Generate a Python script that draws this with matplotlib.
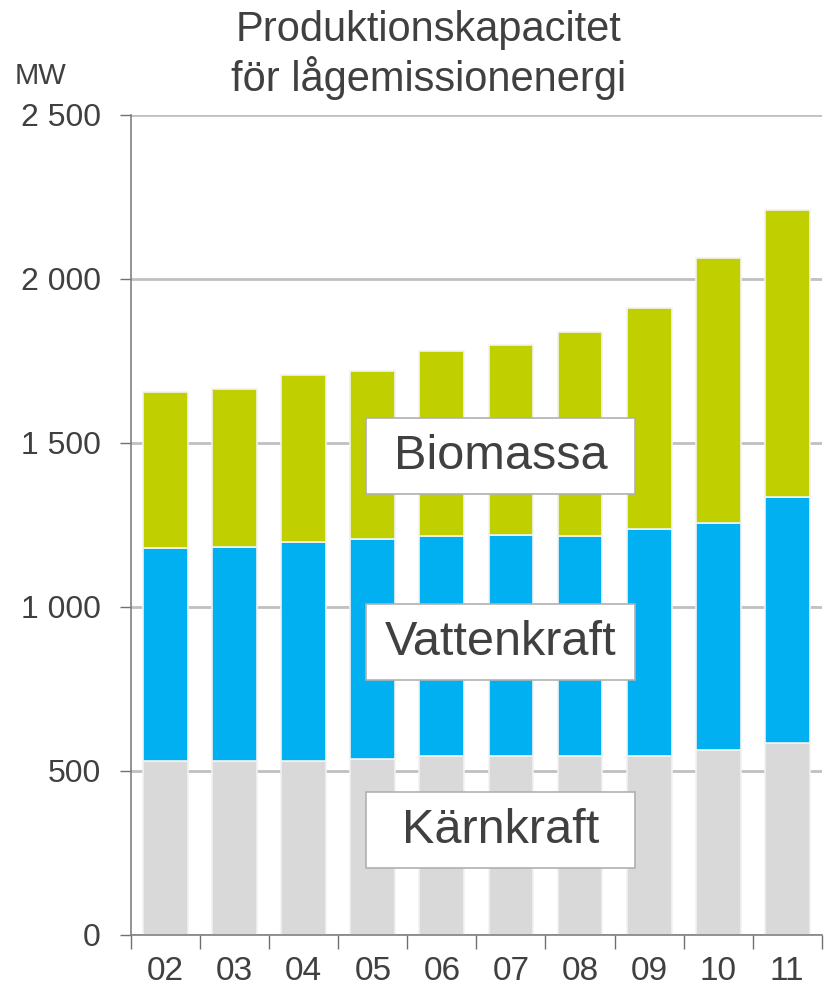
import numpy as np
import matplotlib.pyplot as plt
from matplotlib.patches import Rectangle

years = ["02", "03", "04", "05", "06", "07", "08", "09", "10", "11"]
karnkraft = [530, 530, 530, 537, 546, 546, 546, 546, 564, 585]
vattenkraft = [650, 653, 668, 670, 670, 674, 670, 692, 692, 750]
biomassa = [475, 482, 509, 513, 564, 579, 622, 674, 808, 875]

series = ["Kärnkraft", "Vattenkraft", "Biomassa"]
colors = ["#d9d9d9", "#00b0f0", "#bfcf00"]
label_y = [320, 893, 1460]

plt.rcParams['font.family'] = ['Liberation Sans', 'DejaVu Sans']
text_color = "#404040"

fig = plt.figure(figsize=(8.25, 9.85), dpi=100)
ax = fig.add_axes([0.159, 0.0508, 0.837, 0.8325])

x = np.arange(len(years))
bottom = np.zeros(len(years))
for vals, c in zip([karnkraft, vattenkraft, biomassa], colors):
    ax.bar(x, vals, 0.65, bottom=bottom, color=c, edgecolor="#f2f2f2",
           linewidth=1.2, zorder=2)
    bottom += np.array(vals)

ax.set_xlim(-0.5, len(years) - 0.5)
ax.set_ylim(0, 2500)
ax.set_yticks(np.arange(0, 2501, 500))
ax.set_yticklabels(["0", "500", "1 000", "1 500", "2 000", "2 500"])
ax.yaxis.grid(True, color="#c0c0c0", linewidth=2, zorder=0)
ax.set_axisbelow(True)

ax.set_xticks(x)
ax.set_xticklabels(years, fontsize=24, color=text_color)
ax.set_xticks(np.arange(-0.5, len(years)), minor=True)
ax.tick_params(axis="x", which="major", length=0, pad=15)
ax.tick_params(axis="x", which="minor", length=10, width=1, color="#707070")
ax.tick_params(axis="y", length=8, width=1, color="#707070", labelsize=23,
               labelcolor=text_color, pad=14)

for s in ["top", "right"]:
    ax.spines[s].set_visible(False)
for s in ["left", "bottom"]:
    ax.spines[s].set_color("#808080")
    ax.spines[s].set_linewidth(1.2)

# boxed series labels
for name, yc in zip(series, label_y):
    x0 = 2.9
    w = 3.9
    h = 232
    ax.add_patch(Rectangle((x0, yc - h / 2), w, h, facecolor="white",
                           edgecolor="#b0b0b0", linewidth=1.2, zorder=3))
    ax.text(x0 + w / 2, yc, name, ha="center", va="center", fontsize=35,
            color=text_color, zorder=4)

fig.text(0.519, 0.944, "Produktionskapacitet\nför lågemissionenergi",
         ha="center", va="center", fontsize=30,
         color=text_color, linespacing=1.17)
fig.text(0.018, 0.923, "MW", ha="left", va="center",
         fontsize=21, color=text_color)

fig.savefig("out.png", dpi=100)
